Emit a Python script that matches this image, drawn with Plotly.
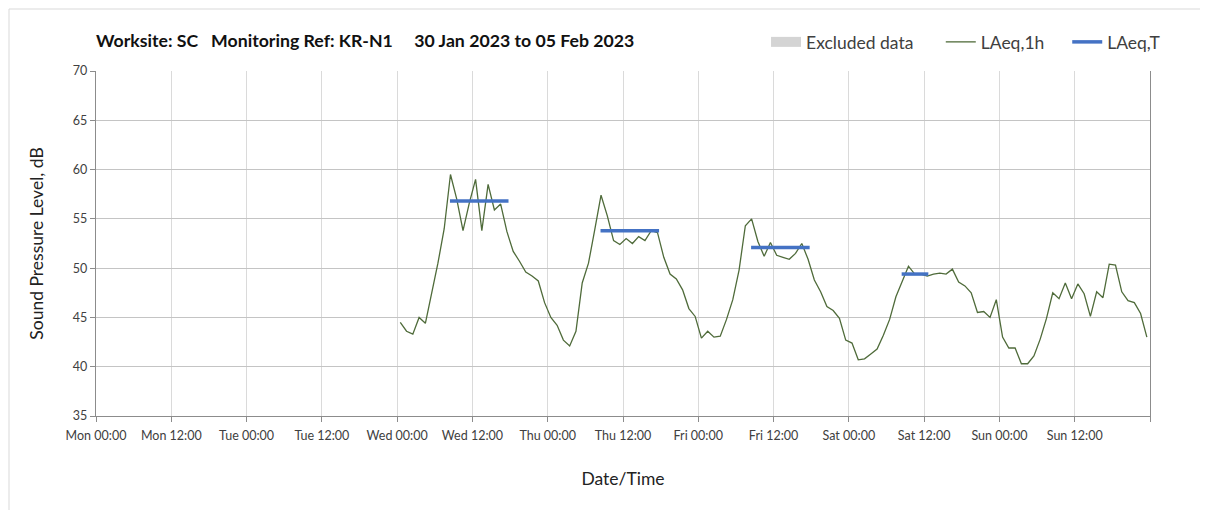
import pandas as pd
import plotly.graph_objects as go

# ---- data ----
title_text = "Worksite: SC   Monitoring Ref: KR-N1     30 Jan 2023 to 05 Feb 2023"
axis_start = "2023-01-30 00:00"
axis_end = "2023-02-06 00:00"
first_hour_mid = "2023-02-01 00:30"   # first hourly value (Wed), plotted at mid-hour

tick_vals = ["2023-01-30 00:00", "2023-01-30 12:00", "2023-01-31 00:00", "2023-01-31 12:00",
             "2023-02-01 00:00", "2023-02-01 12:00", "2023-02-02 00:00", "2023-02-02 12:00",
             "2023-02-03 00:00", "2023-02-03 12:00", "2023-02-04 00:00", "2023-02-04 12:00",
             "2023-02-05 00:00", "2023-02-05 12:00", "2023-02-06 00:00"]
tick_text = ["Mon 00:00", "Mon 12:00", "Tue 00:00", "Tue 12:00", "Wed 00:00", "Wed 12:00",
             "Thu 00:00", "Thu 12:00", "Fri 00:00", "Fri 12:00", "Sat 00:00", "Sat 12:00",
             "Sun 00:00", "Sun 12:00", ""]

laeq_1h = [
    44.5, 43.6, 43.3, 45.0, 44.4, 47.5, 50.5, 54.0, 59.5, 57.0, 53.8, 56.6,
    59.0, 53.8, 58.5, 55.9, 56.5, 53.7, 51.7, 50.7, 49.6, 49.2, 48.7, 46.5,
    45.0, 44.2, 42.7, 42.1, 43.6, 48.5, 50.5, 53.9, 57.4, 55.3, 52.8, 52.4,
    53.0, 52.5, 53.2, 52.8, 53.8, 53.6, 51.1, 49.4, 48.9, 47.8, 45.9, 45.1,
    42.9, 43.6, 43.0, 43.1, 44.8, 46.8, 49.8, 54.3, 55.0, 52.7, 51.2, 52.6,
    51.3, 51.1, 50.9, 51.5, 52.5, 50.9, 48.8, 47.6, 46.1, 45.7, 44.9, 42.7,
    42.4, 40.7, 40.8, 41.3, 41.8, 43.2, 44.8, 47.1, 48.6, 50.2, 49.4, 49.4,
    49.2, 49.4, 49.5, 49.4, 49.9, 48.6, 48.2, 47.5, 45.5, 45.6, 45.0, 46.8,
    43.0, 41.9, 41.9, 40.3, 40.3, 41.1, 42.8, 44.9, 47.5, 46.9, 48.5, 46.9,
    48.4, 47.4, 45.1, 47.6, 47.0, 50.4, 50.3, 47.6, 46.7, 46.5, 45.4, 43.0,
]

laeq_t_start = ["2023-02-01 08:25", "2023-02-02 08:25", "2023-02-03 08:25", "2023-02-04 08:25"]
laeq_t_end = ["2023-02-01 17:45", "2023-02-02 17:45", "2023-02-03 17:45", "2023-02-04 12:40"]
laeq_t_value = [56.8, 53.8, 52.1, 49.4]

excluded_x = [None]
excluded_y = [None]

y_range = [35, 70]

# ---- build ----
hour_times = pd.date_range(first_hour_mid, periods=len(laeq_1h), freq="h")

tx, ty = [], []
for s, e, v in zip(laeq_t_start, laeq_t_end, laeq_t_value):
    tx += [s, e, None]
    ty += [v, v, None]

FONT = "Lato"
NB = "\u00a0"
W, H = 1200, 502
ML, MR, MT, MB = 88, 58, 63, 94
PW, PH = W - ML - MR, H - MT - MB

fig = go.Figure()
fig.add_trace(go.Scatter(x=excluded_x, y=excluded_y, mode="lines", name="Excluded data" + NB * 5,
                         line=dict(color="#d4d4d4", width=10)))
fig.add_trace(go.Scatter(x=hour_times, y=laeq_1h, mode="lines", name="LAeq,1h" + NB * 4,
                         line=dict(color="#4f6b3a", width=1.3)))
fig.add_trace(go.Scatter(x=tx, y=ty, mode="lines", name="LAeq,T",
                         line=dict(color="#4472c4", width=3.5)))

# page body has an 8px margin: shift everything accordingly
fig.update_layout(
    width=W, height=H,
    paper_bgcolor="white", plot_bgcolor="white",
    margin=dict(l=ML, r=MR, t=MT, b=MB),
    font=dict(family=FONT, color="#404040"),
    title=dict(text="<b>" + title_text + "</b>", x=ML / W, xanchor="left",
               y=1 - 33 / H, yanchor="middle",
               font=dict(family=FONT, size=17.7, color="#111111")),
    legend=dict(orientation="h", x=0.6357, xanchor="left", y=1 + 29 / PH, yanchor="middle",
                font=dict(family=FONT, size=17.5, color="#404040"),
                bgcolor="rgba(0,0,0,0)", itemwidth=30),
    showlegend=True,
)
fig.update_xaxes(
    type="date", range=[axis_start, axis_end],
    tickmode="array", tickvals=tick_vals, ticktext=tick_text,
    showgrid=True, gridcolor="#dadada", gridwidth=1,
    showline=True, linecolor="#8c8c8c", linewidth=1.3,
    ticks="outside", ticklen=5, tickcolor="#8c8c8c", ticklabelstandoff=3,
    tickfont=dict(family=FONT, size=12.5, color="#404040"),
    title=dict(text="Date/Time", font=dict(family=FONT, size=17.5, color="#222222"), standoff=30),
    zeroline=False,
)
fig.update_yaxes(
    range=y_range, dtick=5, tick0=35,
    showgrid=True, gridcolor="#c4c4c4", gridwidth=1,
    showline=True, linecolor="#8c8c8c", linewidth=1.3, mirror=True,
    ticks="outside", ticklen=5, tickcolor="#8c8c8c",
    tickfont=dict(family=FONT, size=12.5, color="#404040"),
    title=dict(text="Sound Pressure Level, dB", font=dict(family=FONT, size=17.5, color="#222222"),
               standoff=24),
    zeroline=False,
)
# chart-area border (left and top edges visible in reference), at the figure edge
fig.add_shape(type="rect", xref="paper", yref="paper",
              x0=(1 - ML) / PW, x1=(W + 20 - ML) / PW,
              y0=-(MB + 20) / PH, y1=(PH + MT - 1) / PH,
              line=dict(color="#d9d9d9", width=1), fillcolor="rgba(0,0,0,0)", layer="below")

fig.write_html("out.html")
